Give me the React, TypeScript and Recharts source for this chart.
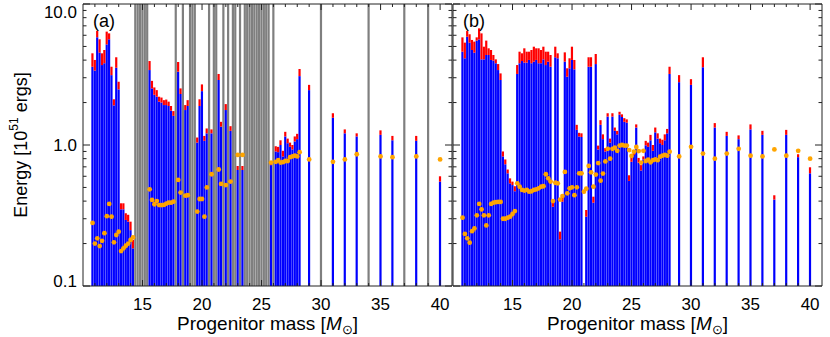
import React from 'react';
import { ComposedChart, Bar, Scatter, XAxis, YAxis, ReferenceLine } from 'recharts';

const FONT = '"Liberation Sans", Arial, Helvetica, sans-serif';

// Progenitor masses (solar masses)
const masses = [
  10.8, 11.0, 11.2, 11.4, 11.6, 11.8, 12.0, 12.2, 12.4, 12.6,
  12.8, 13.0, 13.2, 13.4, 13.6, 13.8, 14.0, 14.2, 14.4, 14.6,
  14.8, 15.0, 15.2, 15.4, 15.6, 15.8, 16.0, 16.2, 16.4, 16.6,
  16.8, 17.0, 17.2, 17.4, 17.6, 17.8, 18.0, 18.2, 18.4, 18.6,
  18.8, 19.0, 19.2, 19.4, 19.6, 19.8, 20.0, 20.2, 20.4, 20.6,
  20.8, 21.0, 21.2, 21.4, 21.6, 21.8, 22.0, 22.2, 22.4, 22.6,
  22.8, 23.0, 23.2, 23.4, 23.6, 23.8, 24.0, 24.2, 24.4, 24.6,
  24.8, 25.0, 25.2, 25.4, 25.6, 25.8, 26.0, 26.2, 26.4, 26.6,
  26.8, 27.0, 27.2, 27.4, 27.6, 27.8, 28.0, 28.2, 29, 30,
  31, 32, 33, 34, 35, 36, 37, 38, 39, 40,
];

// Panel (a): lower (blue) part, total (top of red part), orange markers
const aBlue = [
  3.59, 3.37, 5.81, 4.52, 3.69, 3.80, 5.17, 5.62, 3.13, 1.91,
  3.53, 2.48, 0.35, 0.35, 0.294, 0.286, 0.249, 0.185, null, null,
  null, null, null, null, 3.40, 2.52, 2.27, 2.20, 2.03, 2.00,
  1.92, 1.92, 1.89, 1.75, 1.61, null, 3.31, 2.30, null, 1.77,
  1.89, null, null, null, 1.04, 1.89, 2.41, 1.07, 1.21, null,
  1.21, null, null, 2.89, 1.35, null, 1.77, null, 1.26, null,
  null, 0.665, null, 0.665, null, null, null, null, null, null,
  null, null, null, null, null, 0.72, null, 0.90, 0.89, 1.00,
  0.83, 1.15, 1.03, 0.97, 0.93, 1.06, 1.10, 3.08, 2.45, null,
  1.56, 1.21, 1.15, null, 1.18, 1.08, null, 1.07, null, 0.55,
];
const aTotal = [
  4.47, 4.01, 6.44, 5.62, 4.47, 4.72, 6.37, 6.19, 3.59, 2.11,
  4.19, 2.81, 0.386, 0.386, 0.328, 0.32, 0.286, 0.212, null, null,
  null, null, null, null, 3.94, 2.85, 2.56, 2.45, 2.20, 2.17,
  2.08, 2.10, 2.03, 1.89, 1.74, null, 3.88, 2.52, null, 1.92,
  2.08, null, null, null, 1.13, 2.11, 2.69, 1.16, 1.31, null,
  1.29, null, null, 3.19, 1.46, null, 1.95, null, 1.36, null,
  null, 0.71, null, 0.71, null, null, null, null, null, null,
  null, null, null, null, null, 0.76, null, 0.98, 0.97, 1.08,
  0.91, 1.24, 1.11, 1.04, 1.00, 1.15, 1.20, 3.46, 2.67, null,
  1.68, 1.29, 1.21, null, 1.27, 1.16, null, 1.16, null, 0.60,
];
const aDot = [
  0.28, 0.20, 0.218, 0.192, 0.209, 0.237, 0.313, 0.382, 0.31, 0.204,
  0.23, 0.243, 0.177, 0.185, 0.193, 0.20, 0.212, 0.221, null, null,
  null, null, null, null, 0.485, 0.408, 0.38, 0.40, 0.375, 0.375,
  0.376, 0.384, 0.39, 0.39, 0.396, null, 0.565, 0.46, null, 0.437,
  0.44, null, null, null, 0.337, 0.414, 0.414, 0.31, 0.50, null,
  0.62, null, null, 0.67, 0.53, null, 0.52, null, 0.55, null,
  null, 0.85, null, 0.85, null, null, null, null, null, null,
  null, null, null, null, null, 0.75, null, 0.76, 0.78, 0.75,
  0.755, 0.77, 0.77, 0.82, 0.83, 0.84, 0.83, 0.89, 0.79, null,
  0.76, 0.79, 0.86, null, 0.83, 0.82, null, 0.83, null, 0.79,
];
// Panel (a): masses that collapse to black holes (grey bars)
const aBlackHoles = [
  14.4, 14.6, 14.8, 15.0, 15.2, 15.4, 17.8, 18.4, 19.0, 19.2, 19.4,
  20.6, 21.0, 21.2, 21.8, 22.2, 22.6, 22.8, 23.2, 23.6, 23.8, 24.0,
  24.2, 24.4, 24.6, 24.8, 25.0, 25.2, 25.4, 25.6, 26.0, 30, 34, 37, 39,
];

// Panel (b)
const bBlue = [
  4.59, 4.12, 5.86, 5.32, 4.72, 4.52, 5.50, 5.61, 4.05, 4.05,
  4.35, 4.35, 4.01, 3.97, 3.80, 3.40, 2.89, 0.83, 0.73, 0.63,
  0.535, 0.52, 0.47, 3.19, 3.80, 3.94, 3.84, 3.84, 4.01, 3.80,
  3.90, 4.01, 3.80, 3.80, 4.05, 3.69, 3.90, 3.59, 0.365, 4.19,
  4.12, 0.214, 0.396, 3.90, 3.05, 3.50, 4.01, 3.44, 1.28, 1.15,
  1.14, null, 0.31, 3.59, 3.59, 0.39, 3.75, 0.93, 1.39, 1.10,
  0.90, 1.59, 1.04, 1.59, 1.26, 1.19, 1.64, 1.58, 1.46, 1.44,
  0.556, 0.76, 0.85, 1.33, 0.75, 0.66, 0.79, 0.995, 0.97, 1.08,
  0.91, 1.23, 1.11, 1.03, 1.00, 1.08, 1.21, 3.19, 2.79, 2.67,
  3.56, 1.33, 1.16, 1.10, 1.29, 1.18, 0.41, 1.18, 0.82, 0.63,
];
const bTotal = [
  5.80, 5.32, 6.43, 6.10, 5.56, 5.41, 5.80, 6.72, 6.19, 4.98,
  5.50, 4.85, 4.72, 4.35, 4.05, 3.75, 3.22, 0.90, 0.79, 0.67,
  0.58, 0.55, 0.51, 3.69, 4.59, 4.47, 4.85, 4.59, 4.59, 4.72,
  4.98, 4.85, 4.85, 4.72, 4.98, 4.59, 4.59, 4.35, 0.407, 4.98,
  4.47, 0.243, 0.426, 4.54, 3.50, 4.12, 4.98, 4.01, 1.39, 1.22,
  1.21, null, 0.346, 4.19, 4.19, 0.43, 4.42, 0.99, 1.50, 1.19,
  0.95, 1.68, 1.11, 1.68, 1.33, 1.26, 1.72, 1.65, 1.55, 1.52,
  0.61, 0.83, 0.90, 1.40, 0.81, 0.72, 0.83, 1.07, 1.04, 1.18,
  1.00, 1.33, 1.21, 1.11, 1.09, 1.19, 1.30, 3.59, 3.13, 2.93,
  4.19, 1.43, 1.24, 1.17, 1.40, 1.26, 0.44, 1.28, 0.86, 0.695,
];
const bDot = [
  0.305, 0.234, 0.218, 0.203, 0.245, 0.256, 0.317, 0.382, 0.35, 0.317,
  0.269, 0.317, 0.382, 0.39, 0.393, 0.395, 0.395, 0.30, 0.30, 0.305,
  0.31, 0.324, 0.34, 0.535, 0.506, 0.48, 0.475, 0.48, 0.467, 0.47,
  0.48, 0.485, 0.493, 0.506, 0.51, 0.62, 0.58, 0.55, 0.40, 0.54,
  0.535, 0.41, 0.434, 0.644, 0.454, 0.493, 0.501, 0.441, 0.501, 0.63,
  0.63, 0.467, 0.49, 0.71, 0.64, 0.506, 0.617, 0.745, 0.558, 0.627,
  0.765, 0.94, 0.80, 0.94, 0.957, 0.91, 0.99, 1.00, 0.99, 0.99,
  0.92, 0.836, 0.897, 0.968, 0.906, 0.75, 0.91, 0.77, 0.787, 0.753,
  0.78, 0.79, 0.78, 0.826, 0.84, 0.85, 0.84, 0.897, 0.83, 0.97,
  0.87, 0.80, 0.87, 0.94, 0.84, 0.83, 0.93, 0.84, 0.91, 0.80,
];
const bBlackHoles: number[] = [];

// Axes
const Y_MIN = 0.1;
const Y_MAX = 10;
const X_MIN = 10;
const X_MAX = 41;
const yTicks = [0.1, 0.2, 0.3, 0.4, 0.5, 0.6, 0.7, 0.8, 0.9, 1, 2, 3, 4, 5, 6, 7, 8, 9, 10];
const yMajor = [0.1, 1, 10];
const yMajorLabels = ['0.1', '1.0', '10.0'];
const xTicks = [11, 12, 13, 14, 15, 16, 17, 18, 19, 20, 21, 22, 23, 24, 25, 26, 27, 28, 29, 30, 31, 32, 33, 34, 35, 36, 37, 38, 39, 40];
const xMajor = [15, 20, 25, 30, 35, 40];

const PLOT_W = 369;
const PLOT_H = 282;
const CHART_H = 337;

function buildRows(blue: (number | null)[], total: (number | null)[], blackHoles: number[]) {
  return masses.map((m, i) => {
    const b = blue[i];
    const t = total[i];
    const ok = b != null && t != null;
    return {
      m,
      blue: ok ? [Y_MIN, b] : [Y_MIN, Y_MIN],
      red: ok ? [b, t] : [Y_MIN, Y_MIN],
      bh: blackHoles.includes(m) ? [Y_MIN, Y_MAX] : [Y_MIN, Y_MIN],
    };
  });
}
function buildDots(dot: (number | null)[]) {
  return masses.map((m, i) => ({ m, d: dot[i] })).filter((p) => p.d != null);
}

const XTick = (props: any) => {
  const { x, y, payload } = props;
  const v = payload.value;
  const major = xMajor.includes(v);
  const len = major ? 6 : 3;
  return (
    <g>
      <line x1={x} x2={x} y1={y} y2={y - len} stroke="#222" strokeWidth={1} />
      <line x1={x} x2={x} y1={y - PLOT_H} y2={y - PLOT_H + len} stroke="#222" strokeWidth={1} />
      {major && (
        <text x={x} y={y + 24} textAnchor="middle" fontSize={17} fontFamily={FONT} fill="#000">
          {v}
        </text>
      )}
    </g>
  );
};

const YTick = (props: any) => {
  const { x, y, payload, showLabels } = props;
  const v = payload.value;
  const mi = yMajor.indexOf(v);
  const major = mi >= 0;
  const len = major ? 7 : 3.5;
  const off = v === 10 ? 8 : v === 0.1 ? -5 : 0;
  return (
    <g>
      <line x1={x} x2={x + len} y1={y} y2={y} stroke="#222" strokeWidth={1} />
      <line x1={x + PLOT_W} x2={x + PLOT_W - len} y1={y} y2={y} stroke="#222" strokeWidth={1} />
      {showLabels && major && (
        <text x={x - 6} y={y + off} textAnchor="end" dominantBaseline="central" fontSize={17} fontFamily={FONT} fill="#000">
          {yMajorLabels[mi]}
        </text>
      )}
    </g>
  );
};

const XLabel = (props: any) => {
  const vb = props.viewBox || { x: 0, y: 0, width: 0, height: 0 };
  const cx = vb.x + vb.width / 2;
  const cy = vb.y + 44;
  return (
    <text x={cx} y={cy} textAnchor="middle" fontSize={19} fontFamily={FONT} fill="#000">
      Progenitor mass [<tspan fontStyle="italic">M</tspan>
      <tspan dy={4} fontSize={13}>⊙</tspan>
      <tspan dy={-4}>]</tspan>
    </text>
  );
};

const YLabel = (props: any) => {
  const vb = props.viewBox || { x: 0, y: 0, width: 0, height: 0 };
  const cx = vb.x + 21;
  const cy = vb.y + vb.height / 2;
  return (
    <text
      x={cx}
      y={cy}
      transform={`rotate(-90 ${cx} ${cy})`}
      textAnchor="middle"
      dominantBaseline="central"
      fontSize={18}
      fontFamily={FONT}
      fill="#000"
    >
      Energy [10<tspan dy={-7} fontSize={12}>51</tspan>
      <tspan dy={7}> ergs]</tspan>
    </text>
  );
};

const Dot = (props: any) => {
  const { cx, cy } = props;
  if (cx == null || cy == null || isNaN(cx) || isNaN(cy)) return null;
  return <circle cx={cx} cy={cy} r={2.4} fill="#ffa500" />;
};

type PanelProps = {
  rows: any[];
  dots: any[];
  left: number;
  width: number;
  yAxisWidth: number;
  showYLabels: boolean;
};

function Panel({ rows, dots, left, width, yAxisWidth, showYLabels }: PanelProps) {
  return (
    <div style={{ position: 'absolute', left, top: 0 }}>
      <ComposedChart
        width={width}
        height={CHART_H}
        data={rows}
        margin={{ top: 4, right: 8, bottom: 0, left: 0 }}
        barGap={0}
        barCategoryGap={0}
      >
        <XAxis
          xAxisId="main"
          dataKey="m"
          type="number"
          domain={[X_MIN, X_MAX]}
          allowDataOverflow
          ticks={xTicks}
          interval={0}
          tickSize={0}
          tickMargin={0}
          tickLine={false}
          tick={<XTick />}
          axisLine={{ stroke: '#222' }}
          height={51}
          label={XLabel}
        />
        <XAxis xAxisId="top" orientation="top" height={0} dataKey="m" type="number" domain={[X_MIN, X_MAX]} allowDataOverflow hide />
        <XAxis xAxisId="bh" orientation="top" height={0} dataKey="m" type="number" domain={[X_MIN, X_MAX]} allowDataOverflow hide />
        <YAxis
          type="number"
          scale="log"
          domain={[Y_MIN, Y_MAX]}
          allowDataOverflow
          ticks={yTicks}
          interval={0}
          tickSize={0}
          tickMargin={0}
          tickLine={false}
          tick={<YTick showLabels={showYLabels} />}
          axisLine={{ stroke: '#222' }}
          width={yAxisWidth}
          label={showYLabels ? YLabel : undefined}
        />
        <Bar xAxisId="bh" dataKey="bh" fill="#7f7f7f" barSize={2.2} isAnimationActive={false} />
        <Bar xAxisId="main" dataKey="blue" fill="#0000ff" barSize={2.2} isAnimationActive={false} />
        <Bar xAxisId="top" dataKey="red" fill="#ff0000" barSize={2.2} isAnimationActive={false} />
        <Scatter xAxisId="main" data={dots} dataKey="d" shape={<Dot />} isAnimationActive={false} />
        <ReferenceLine xAxisId="main" y={Y_MAX} stroke="#222" />
        <ReferenceLine xAxisId="main" x={X_MAX} stroke="#222" />
      </ComposedChart>
    </div>
  );
}

export default function App() {
  const aRows = buildRows(aBlue, aTotal, aBlackHoles);
  const bRows = buildRows(bBlue, bTotal, bBlackHoles);
  const aDots = buildDots(aDot);
  const bDots = buildDots(bDot);
  return (
    <div style={{ position: 'absolute', left: 0, top: 0, width: 830, height: CHART_H, background: '#fff', overflow: 'hidden' }}>
      <Panel rows={aRows} dots={aDots} left={0} width={460} yAxisWidth={83} showYLabels={true} />
      <Panel rows={bRows} dots={bDots} left={440} width={390} yAxisWidth={13} showYLabels={false} />
      <svg width={830} height={CHART_H} style={{ position: 'absolute', left: 0, top: 0, pointerEvents: 'none' }}>
        <text x={93} y={27} fontSize={18} fontFamily={FONT} fill="#000">(a)</text>
        <text x={463} y={27} fontSize={18} fontFamily={FONT} fill="#000">(b)</text>
      </svg>
    </div>
  );
}
